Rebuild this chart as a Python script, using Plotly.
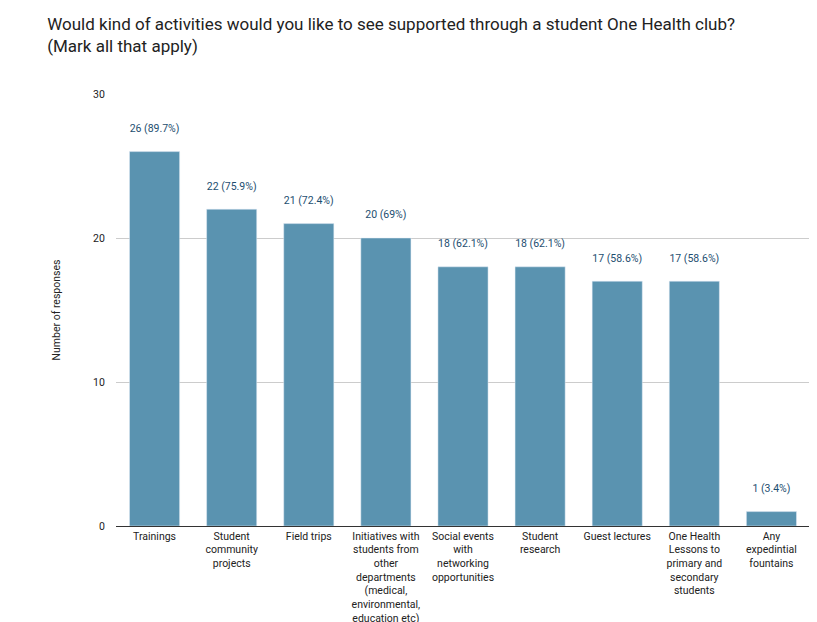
import plotly.graph_objects as go

categories = [
    "Trainings",
    "Student<br>community<br>projects",
    "Field trips",
    "Initiatives with<br>students from<br>other<br>departments<br>(medical,<br>environmental,<br>education etc)",
    "Social events<br>with<br>networking<br>opportunities",
    "Student<br>research",
    "Guest lectures",
    "One Health<br>Lessons to<br>primary and<br>secondary<br>students",
    "Any<br>expedintial<br>fountains",
]
counts = [26, 22, 21, 20, 18, 18, 17, 17, 1]
percents = ["89.7%", "75.9%", "72.4%", "69%", "62.1%", "62.1%", "58.6%", "58.6%", "3.4%"]

labels = [f"{c} ({p})" for c, p in zip(counts, percents)]

fig = go.Figure(go.Bar(
    x=categories, y=counts, text=labels, textposition="outside",
    texttemplate="%{text}<br> ",
    marker_color="#5a93b0", textfont=dict(size=10.5, color="#1d4e70"),
    cliponaxis=False,
))

fig.update_layout(
    width=817, height=622,
    font=dict(family="Roboto, Arial", color="#222"),
    title=dict(text="Would kind of activities would you like to see supported through a student One Health club?<br>(Mark all that apply)",
               x=0.048, xanchor="left", y=0.965, yanchor="top",
               font=dict(size=17, color="#222")),
    margin=dict(l=108, r=15, t=86, b=104),
    plot_bgcolor="white", paper_bgcolor="white",
    bargap=0.35, showlegend=False,
    yaxis=dict(range=[0, 30], tickvals=[0, 10, 20, 30], gridcolor="#cccccc",
               title=dict(text="Number of responses", font=dict(size=10.5), standoff=30),
               tickfont=dict(size=10.5), zeroline=False, ticks="outside",
               ticklen=8, tickcolor="white", automargin=False),
    xaxis=dict(tickfont=dict(size=10.5), showline=True, linecolor="#333",
               tickangle=0, automargin=False),
)

fig.write_html("out.html")
